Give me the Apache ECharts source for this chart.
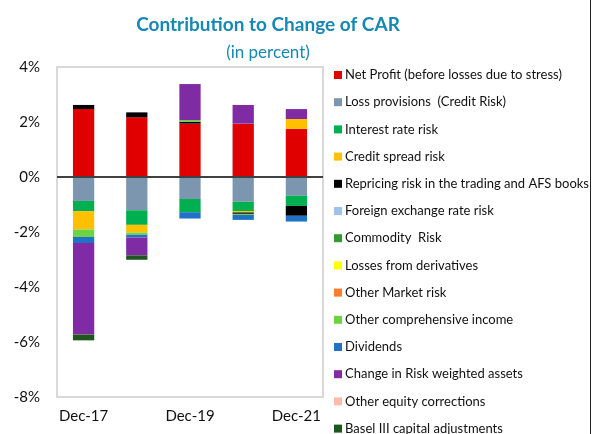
<!DOCTYPE html>
<html>
<head>
<meta charset="utf-8">
<script src="https://cdn.jsdelivr.net/npm/echarts@6/dist/echarts.min.js"></script>
<style>
  html, body { margin: 0; padding: 0; background: #fff; }
  #chart { width: 595px; height: 434px; }
</style>
</head>
<body>
<div id="chart"></div>
<script>
// categories (only every other one is labelled on the axis)
const categories = ['Dec-17', 'Dec-18', 'Dec-19', 'Dec-20', 'Dec-21']

// contributions, in percent
const netProfit = [2.47, 2.17, 1.94, 1.94, 1.75]
const lossProvisions = [-0.87, -1.21, -0.80, -0.90, -0.68]
const interestRate = [-0.37, -0.53, -0.48, -0.34, -0.37]
const creditSpread = [-0.67, -0.28, 0, -0.05, 0.36]
const repricing = [0.15, 0.18, 0.07, -0.05, -0.36]
const fxRate = [0, 0, 0, 0, 0]
const commodity = [0, 0, 0, 0, 0]
const derivatives = [0, 0, 0, 0, 0]
const otherMarket = [0, 0, 0, 0, 0]
const otherIncome = [-0.27, -0.08, 0.06, -0.04, 0]
const dividends = [-0.22, -0.10, -0.23, -0.18, -0.21]
const rwaChange = [-3.33, -0.65, 1.31, 0.68, 0.36]
const otherEquity = [0, 0, 0, 0, 0]
const baselAdj = [-0.21, -0.16, 0, 0, 0]

const seriesList = [
  ['Net Profit (before losses due to stress)', netProfit, '#e00000'],
  ['Loss provisions  (Credit Risk)', lossProvisions, '#7c96b0'],
  ['Interest rate risk', interestRate, '#00b050'],
  ['Credit spread risk', creditSpread, '#ffc000'],
  ['Repricing risk in the trading and AFS books', repricing, '#000000'],
  ['Foreign exchange rate risk', fxRate, '#9dc3e6'],
  ['Commodity  Risk', commodity, '#339933'],
  ['Losses from derivatives', derivatives, '#ffff00'],
  ['Other Market risk', otherMarket, '#ff7c2a'],
  ['Other comprehensive income', otherIncome, '#6fd144'],
  ['Dividends', dividends, '#1f72c6'],
  ['Change in Risk weighted assets', rwaChange, '#7f2ba3'],
  ['Other equity corrections', otherEquity, '#ffbcaa'],
  ['Basel III capital adjustments', baselAdj, '#1e561e']
]

const font = 'Lato, "Open Sans", sans-serif'
const chart = echarts.init(document.getElementById('chart'))

const series = seriesList.map(([name, values, color], i) => {
  const s = {
    name: name,
    type: 'bar',
    stack: 'car',
    barWidth: '40%',
    data: values,
    itemStyle: { color: color },
    emphasis: { disabled: true }
  }
  if (i === 0) {
    s.markLine = {
      silent: true,
      symbol: 'none',
      label: { show: false },
      lineStyle: { color: '#404040', width: 2, type: 'solid' },
      data: [{ yAxis: 0 }]
    }
  }
  return s
})

const options = {
  backgroundColor: '#fff',
  animation: false,
  title: [{
    text: 'Contribution to Change of CAR',
    left: 263,
    textAlign: 'center',
    top: 10,
    textStyle: { fontFamily: font, fontSize: 19, fontWeight: 'bold', color: '#1688b4' }
  }, {
    text: '(in percent)',
    left: 263,
    textAlign: 'center',
    top: 39,
    textStyle: { fontFamily: font, fontSize: 17, fontWeight: 'normal', color: '#1688b4' }
  }],
  legend: {
    orient: 'vertical',
    left: 334,
    top: 68,
    height: 400,
    padding: 0,
    itemWidth: 8,
    itemHeight: 8,
    itemGap: 13.2,
    icon: 'rect',
    selectedMode: false,
    textStyle: { fontFamily: font, fontSize: 13, color: '#111', lineHeight: 14, padding: [0, 0, 0, -2] },
    data: seriesList.map(s => s[0])
  },
  grid: {
    left: 57,
    right: 272,
    top: 67,
    bottom: 37,
    show: true,
    borderColor: '#d9d9d9',
    borderWidth: 2
  },
  xAxis: {
    type: 'category',
    data: categories,
    axisLine: { show: false, onZero: false },
    axisTick: { show: false },
    axisLabel: { interval: 1, margin: 12, fontFamily: font, fontSize: 15, color: '#111' }
  },
  yAxis: {
    type: 'value',
    min: -8,
    max: 4,
    interval: 2,
    axisLine: { show: false },
    axisTick: { show: false },
    splitLine: { show: false },
    axisLabel: { formatter: '{value}%', margin: 17, fontFamily: font, fontSize: 15, color: '#111' }
  },
  graphic: [{
    type: 'rect',
    right: 4,
    top: 0,
    shape: { width: 1, height: 434 },
    style: { fill: '#222' }
  }],
  series: series
}

chart.setOption(options)
</script>
</body>
</html>
